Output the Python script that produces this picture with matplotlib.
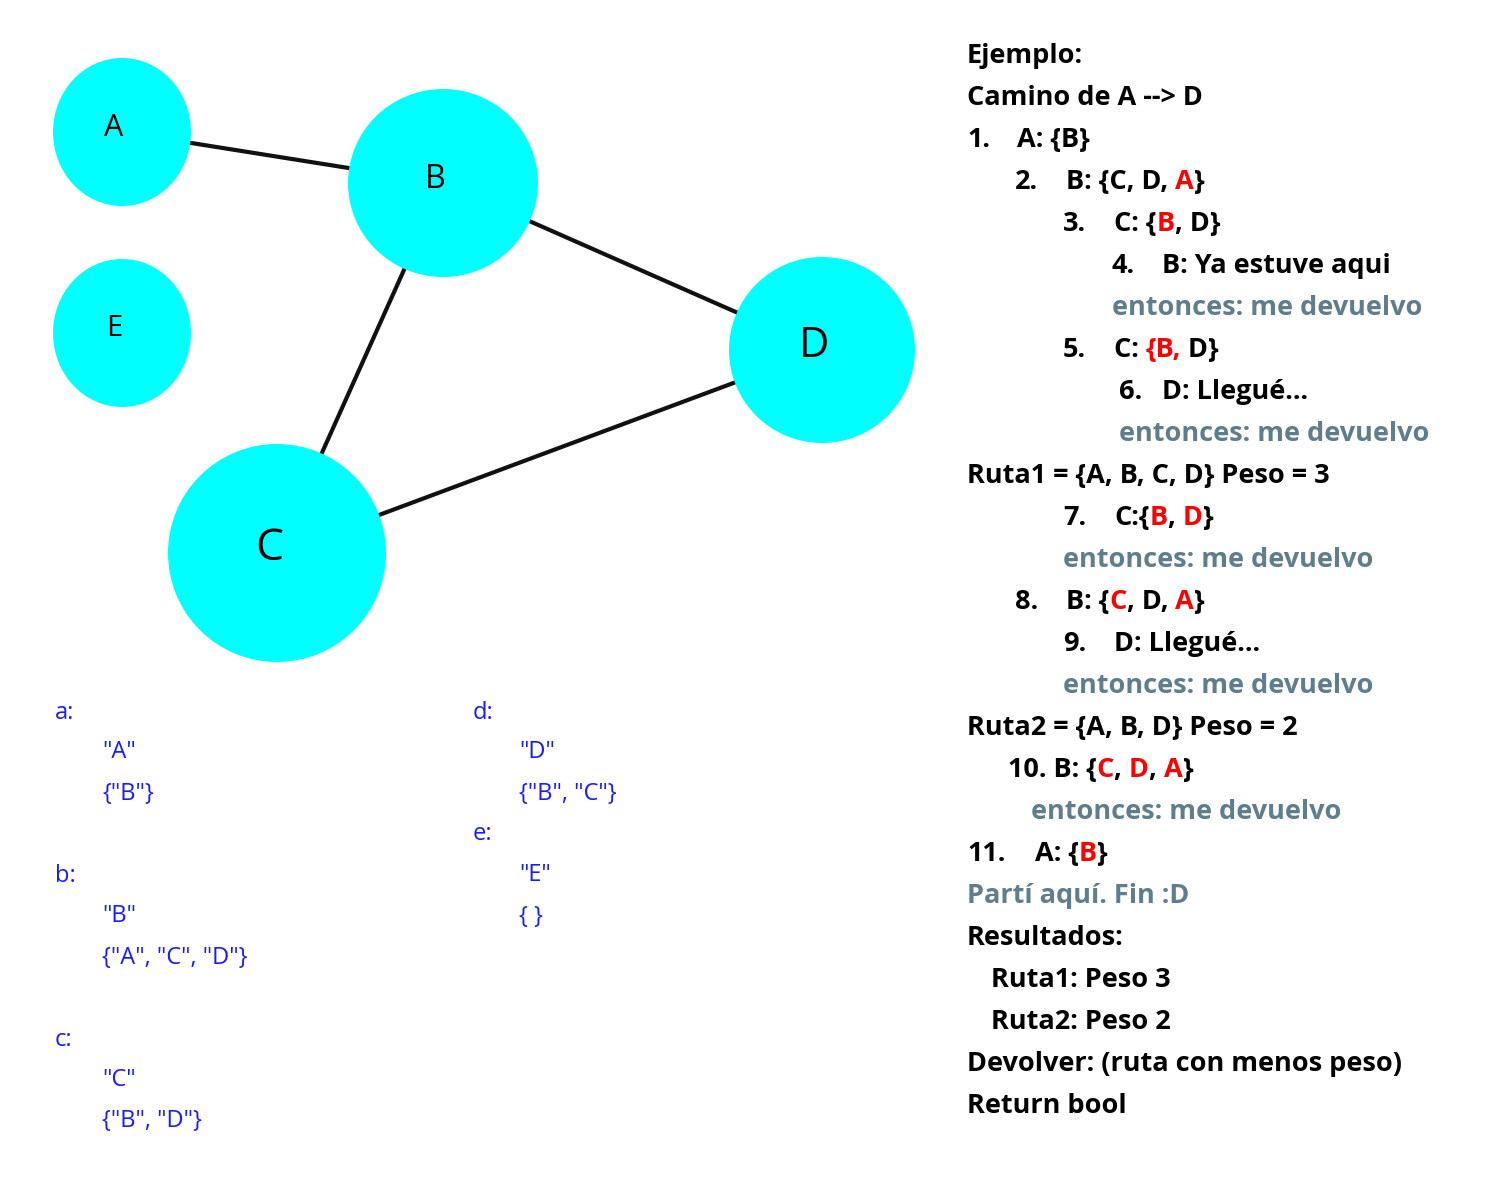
import matplotlib.pyplot as plt
from matplotlib.patches import Ellipse

plt.rcParams["font.family"] = ["Open Sans", "DejaVu Sans"]

# graph data
NODES = ["A", "B", "C", "D", "E"]
NODE_XY = {"A": (122, 132), "B": (443, 183), "C": (277, 553), "D": (822, 350), "E": (122, 333)}
NODE_R = {"A": (69, 74), "B": (95, 94), "C": (109, 109), "D": (93, 93), "E": (69, 74)}
NODE_FS = {"A": 22, "B": 23, "C": 32, "D": 30, "E": 21}
EDGES = [("A", "B"), ("B", "D"), ("B", "C"), ("C", "D")]

CYAN = "#00ffff"
BLUE = "#1a1aff"
RED = "#ff0000"
GRAY = "#607d8b"
BLACK = "#000000"

# adjacency listing (x, y, text)
ADJ = [
    (55, 713, "a:"), (102, 752, '"A"'), (102, 794, '{"B"}'),
    (55, 876, "b:"), (102, 916, '"B"'), (102, 958, '{"A", "C", "D"}'),
    (55, 1040, "c:"), (102, 1080, '"C"'), (102, 1121, '{"B", "D"}'),
    (473, 713, "d:"), (519, 752, '"D"'), (519, 794, '{"B", "C"}'),
    (473, 834, "e:"), (519, 875, '"E"'), (519, 917, "{ }"),
]

K, R, G = BLACK, RED, GRAY
# walkthrough lines: y, [(x, [(text, color), ...]), ...]
STEPS = [
    (56, [(967, [("Ejemplo:", K)])]),
    (98, [(967, [("Camino de A --> D", K)])]),
    (140, [(967, [("1.", K)]), (1017, [("A: {B}", K)])]),
    (182, [(1015, [("2.", K)]), (1066, [("B: {C, D, ", K), ("A", R), ("}", K)])]),
    (224, [(1063, [("3.", K)]), (1114, [("C: {", K), ("B", R), (", D}", K)])]),
    (266, [(1111, [("4.", K)]), (1162, [("B: Ya estuve aqui", K)])]),
    (308, [(1112, [("entonces: me devuelvo", G)])]),
    (350, [(1063, [("5.", K)]), (1114, [("C: ", K), ("{B,", R), (" D}", K)])]),
    (392, [(1119, [("6.", K)]), (1162, [("D: Llegué...", K)])]),
    (434, [(1119, [("entonces: me devuelvo", G)])]),
    (476, [(967, [("Ruta1 = {A, B, C, D} Peso = 3", K)])]),
    (518, [(1063, [("7.", K)]), (1114, [("C:{", K), ("B", R), (", ", K), ("D", R), ("}", K)])]),
    (560, [(1063, [("entonces: me devuelvo", G)])]),
    (602, [(1015, [("8.", K)]), (1066, [("B: {", K), ("C", R), (", D, ", K), ("A", R), ("}", K)])]),
    (644, [(1063, [("9.", K)]), (1114, [("D: Llegué...", K)])]),
    (686, [(1063, [("entonces: me devuelvo", G)])]),
    (728, [(967, [("Ruta2 = {A, B, D} Peso = 2", K)])]),
    (770, [(1008, [("10. B: {", K), ("C", R), (", ", K), ("D", R), (", ", K), ("A", R), ("}", K)])]),
    (812, [(1031, [("entonces: me devuelvo", G)])]),
    (854, [(967, [("11.", K)]), (1035, [("A: {", K), ("B", R), ("}", K)])]),
    (896, [(967, [("Partí aquí. Fin :D", G)])]),
    (938, [(967, [("Resultados:", K)])]),
    (980, [(991, [("Ruta1: Peso 3", K)])]),
    (1022, [(991, [("Ruta2: Peso 2", K)])]),
    (1064, [(967, [("Devolver: (ruta con menos peso)", K)])]),
    (1106, [(967, [("Return bool", K)])]),
]

fig = plt.figure(figsize=(15, 12), dpi=100)
ax = fig.add_axes([0, 0, 1, 1])
ax.set_xlim(0, 1500)
ax.set_ylim(1200, 0)
ax.axis("off")

for a, b in EDGES:
    (x1, y1), (x2, y2) = NODE_XY[a], NODE_XY[b]
    ax.plot([x1, x2], [y1, y2], color="#111111", lw=3, zorder=1, solid_capstyle="butt")

for n in NODES:
    x, y = NODE_XY[n]
    rx, ry = NODE_R[n]
    ax.add_patch(Ellipse((x, y), 2 * rx, 2 * ry, facecolor=CYAN, edgecolor="none", zorder=2))
    ax.text(x - 8, y - 4, n, fontsize=NODE_FS[n], ha="center", va="center", zorder=3)

for x, y, t in ADJ:
    ax.text(x, y, t, fontsize=17, color=BLUE, ha="left", va="center")

fig.canvas.draw()
rend = fig.canvas.get_renderer()
inv = ax.transData.inverted()
for y, parts in STEPS:
    for x0, segs in parts:
        x = x0
        for txt, col in segs:
            t = ax.text(x, y, txt, fontsize=19.5, fontweight="bold", color=col,
                        ha="left", va="center")
            bb = t.get_window_extent(renderer=rend)
            x = inv.transform((bb.x1, bb.y0))[0]

fig.savefig("out.png", dpi=100, facecolor="white")
